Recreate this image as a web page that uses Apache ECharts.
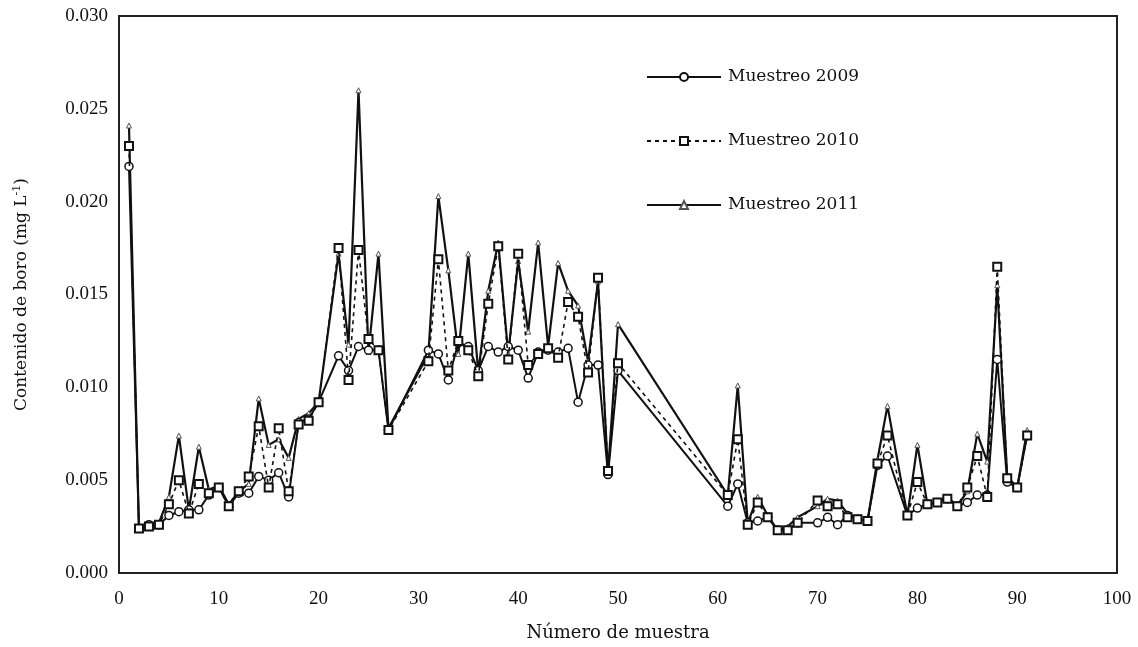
<!DOCTYPE html>
<html><head><meta charset="utf-8">
<script src="https://cdn.jsdelivr.net/npm/echarts@6/dist/echarts.min.js"></script>
<style>html,body{margin:0;padding:0;background:#fff}#c{width:1138px;height:647px}</style>
</head><body><div id="c"></div>
<script>
const samples = [1,2,3,4,5,6,7,8,9,10,11,12,13,14,15,16,17,18,19,20,22,23,24,25,26,27,31,32,33,34,35,36,37,38,39,40,41,42,43,44,45,46,47,48,49,50,61,62,63,64,65,66,67,68,70,71,72,73,74,75,76,77,79,80,81,82,83,84,85,86,87,88,89,90,91];
const values2009 = [0.0219,0.0024,0.0026,0.0026,0.0031,0.0033,0.0034,0.0034,0.0042,0.0046,0.0036,0.0043,0.0043,0.0052,0.0050,0.0054,0.0041,0.0081,0.0083,0.0092,0.0117,0.0109,0.0122,0.0120,0.0120,0.0077,0.0120,0.0118,0.0104,0.0124,0.0122,0.0109,0.0122,0.0119,0.0122,0.0120,0.0105,0.0119,0.0120,0.0119,0.0121,0.0092,0.0112,0.0112,0.0053,0.0109,0.0036,0.0048,0.0027,0.0028,0.0030,0.0023,0.0023,0.0027,0.0027,0.0030,0.0026,0.0031,0.0029,0.0028,0.0058,0.0063,0.0031,0.0035,0.0037,0.0038,0.0040,0.0036,0.0038,0.0042,0.0042,0.0115,0.0049,0.0046,0.0074];
const values2010 = [0.0230,0.0024,0.0025,0.0026,0.0037,0.0050,0.0032,0.0048,0.0043,0.0046,0.0036,0.0044,0.0052,0.0079,0.0046,0.0078,0.0044,0.0080,0.0082,0.0092,0.0175,0.0104,0.0174,0.0126,0.0120,0.0077,0.0114,0.0169,0.0109,0.0125,0.0120,0.0106,0.0145,0.0176,0.0115,0.0172,0.0112,0.0118,0.0121,0.0116,0.0146,0.0138,0.0108,0.0159,0.0055,0.0113,0.0042,0.0072,0.0026,0.0038,0.0030,0.0023,0.0023,0.0027,0.0039,0.0036,0.0037,0.0030,0.0029,0.0028,0.0059,0.0074,0.0031,0.0049,0.0037,0.0038,0.0040,0.0036,0.0046,0.0063,0.0041,0.0165,0.0051,0.0046,0.0074];
const values2011 = [0.0241,0.0024,0.0026,0.0027,0.0041,0.0074,0.0034,0.0068,0.0045,0.0047,0.0037,0.0044,0.0048,0.0094,0.0069,0.0072,0.0062,0.0083,0.0086,0.0092,0.0172,0.0123,0.0260,0.0119,0.0172,0.0078,0.0118,0.0203,0.0163,0.0118,0.0172,0.0108,0.0152,0.0178,0.0118,0.0168,0.0130,0.0178,0.0122,0.0167,0.0152,0.0144,0.0114,0.0157,0.0054,0.0134,0.0042,0.0101,0.0027,0.0041,0.0031,0.0023,0.0025,0.0030,0.0036,0.0040,0.0039,0.0032,0.0029,0.0028,0.0061,0.0090,0.0031,0.0069,0.0037,0.0038,0.0041,0.0036,0.0044,0.0075,0.0060,0.0155,0.0052,0.0046,0.0077];
const seriesNames = ['Muestreo 2009','Muestreo 2010','Muestreo 2011'];
const xTicks = [0,10,20,30,40,50,60,70,80,90,100];
const yTicks = [0.000,0.005,0.010,0.015,0.020,0.025,0.030];

const F = 'Liberation Serif';
const FN = 'DejaVu Serif';
const FS = 19;
const pair = v => samples.map((s,i)=>[s,v[i]]);
const chart = echarts.init(document.getElementById('c'));
chart.setOption({
  animation:false,
  backgroundColor:'#fff',
  textStyle:{fontFamily:F,color:'#111'},
  grid:{left:119,right:21,top:16,bottom:73,show:true,borderColor:'#222',borderWidth:2,backgroundColor:'transparent'},
  legend:{
    orient:'vertical',left:641,top:62,itemWidth:74,itemHeight:10,itemGap:44,
    data:seriesNames,
    textStyle:{fontFamily:FN,fontSize:17,color:'#111',lineHeight:20,padding:[0,0,0,2]},
    inactiveColor:'#111'
  },
  xAxis:{
    type:'value',min:xTicks[0],max:xTicks[xTicks.length-1],interval:10,
    name:'Número de muestra',nameLocation:'middle',nameGap:51,
    nameTextStyle:{fontFamily:FN,fontSize:18,color:'#111'},
    axisLine:{show:true,lineStyle:{color:'#222',width:2}},
    axisTick:{show:false},splitLine:{show:false},
    axisLabel:{fontFamily:F,fontSize:FS,color:'#111',margin:17}
  },
  yAxis:{
    type:'value',min:yTicks[0],max:yTicks[yTicks.length-1],interval:0.005,
    name:'{a|Contenido de boro (mg L}{s|-1}{a|)}',nameLocation:'middle',nameGap:88,nameRotate:90,
    nameTextStyle:{rich:{a:{fontFamily:FN,fontSize:17,color:'#111'},s:{fontFamily:FN,fontSize:11,color:'#111',verticalAlign:'top',padding:[0,0,8,0]}}},
    axisLine:{show:true,lineStyle:{color:'#222',width:2}},
    axisTick:{show:false},splitLine:{show:false},
    axisLabel:{fontFamily:F,fontSize:FS,color:'#111',margin:11,formatter:v=>v.toFixed(3)}
  },
  series:[
    {name:seriesNames[0],type:'line',data:pair(values2009),symbol:'circle',symbolSize:8,
     lineStyle:{color:'#111',width:2},itemStyle:{color:'#fff',borderColor:'#111',borderWidth:1.5},z:3},
    {name:seriesNames[1],type:'line',data:pair(values2010),symbol:'rect',symbolSize:8,
     lineStyle:{color:'#111',width:1.6,type:[4,4]},itemStyle:{color:'#fff',borderColor:'#111',borderWidth:2},z:4},
    {name:seriesNames[2],type:'line',data:pair(values2011),symbol:'triangle',symbolSize:5,
     lineStyle:{color:'#111',width:2.2},itemStyle:{color:'#fff',borderColor:'#555',borderWidth:1},z:2}
  ]
});
</script></body></html>
